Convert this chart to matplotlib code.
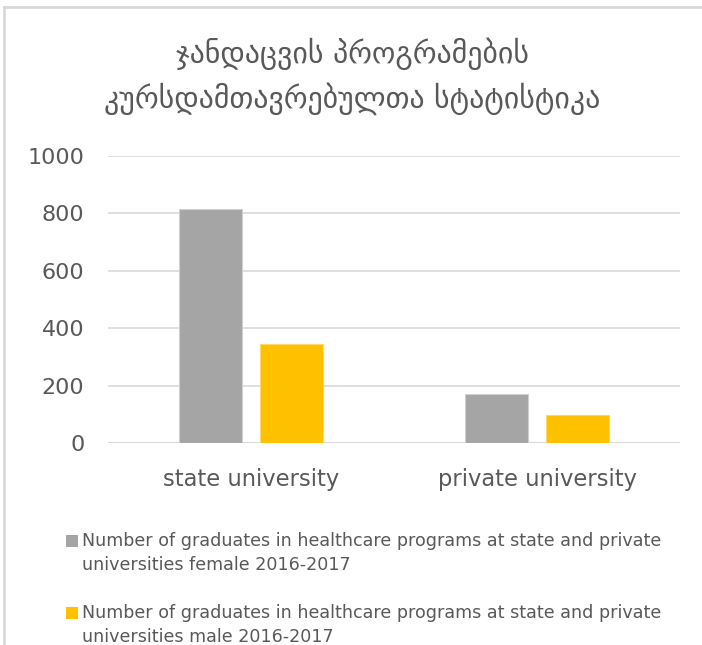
import matplotlib
matplotlib.use("Agg")
import matplotlib.pyplot as plt
from matplotlib.patches import Rectangle
from matplotlib.lines import Line2D
import numpy as np

categories = ["state university", "private university"]
female = [815, 171]
male = [345, 97]
series_labels = [
    "Number of graduates in healthcare programs at state and private\nuniversities female 2016-2017",
    "Number of graduates in healthcare programs at state and private\nuniversities male 2016-2017",
]
title = "ჯანდაცვის პროგრამების\nკურსდამთავრებულთა სტატისტიკა"
yticks = [0, 200, 400, 600, 800, 1000]

colors = ["#A5A5A5", "#FFC000"]
txt = "#595959"

fig = plt.figure(figsize=(7.02, 6.45), dpi=100)
ax = fig.add_axes([108/702, 1-443/645, 572/702, 287/645])

x = np.arange(len(categories))
w = 0.22
off = 0.143
ax.bar(x - off, female, w, color=colors[0], edgecolor="#D0D0D0", linewidth=0.8, zorder=3)
ax.bar(x + off, male, w, color=colors[1], edgecolor="#FFD966", linewidth=0.8, zorder=3)

ax.set_xlim(-0.5, 1.5)
ax.set_ylim(0, 1000)
ax.set_yticks(yticks)
ax.set_yticklabels([str(v) for v in yticks], fontsize=16, color=txt)
ax.set_xticks(x)
ax.set_xticklabels(categories, fontsize=16.3, color=txt)
ax.tick_params(axis="both", length=0)
ax.tick_params(axis="y", pad=17)
ax.tick_params(axis="x", pad=18)
ax.grid(axis="y", color="#D9D9D9", linewidth=1.2, zorder=0)
for s in ax.spines.values():
    s.set_visible(False)
ax.axhline(0, color="#D9D9D9", linewidth=1.5, zorder=2)

fig.text(352/702, 1-76/645, title, ha="center", va="center", fontsize=21.5,
         color=txt, family=["DejaVu Sans"], linespacing=1.5)

# frame border
fig.add_artist(Line2D([4/702, 4/702], [0, 1-7/645], transform=fig.transFigure, color="#D9D9D9", lw=2))
fig.add_artist(Line2D([4/702, 1], [1-7/645, 1-7/645], transform=fig.transFigure, color="#D9D9D9", lw=2))

# legend
leg_y = [541, 613]
for i, (lab, c) in enumerate(zip(series_labels, colors)):
    yy = leg_y[i]
    fig.add_artist(Rectangle((66/702, 1-(yy+6)/645), 12/702, 12/645, transform=fig.transFigure,
                             facecolor=c, edgecolor="none"))
    fig.text(82/702, 1-(yy-9)/645, lab, ha="left", va="top", fontsize=12.6, color=txt,
             linespacing=1.45)

fig.savefig("out.png", dpi=100)
